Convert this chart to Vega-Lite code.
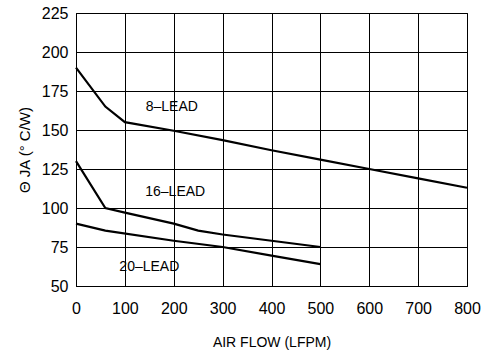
{
  "$schema": "https://vega.github.io/schema/vega-lite/v6.json",
  "width": 391,
  "height": 273,
  "autosize": "none",
  "padding": {"left": 76, "top": 13, "right": 15, "bottom": 68},
  "background": "white",
  "config": {
    "view": {"stroke": "black", "strokeWidth": 1},
    "font": "Liberation Sans"
  },
  "datasets": {
    "curves": [
      {"series": "8-LEAD", "flow": 0, "theta": 190},
      {"series": "8-LEAD", "flow": 60, "theta": 165},
      {"series": "8-LEAD", "flow": 100, "theta": 155},
      {"series": "8-LEAD", "flow": 200, "theta": 149.5},
      {"series": "8-LEAD", "flow": 300, "theta": 143.5},
      {"series": "8-LEAD", "flow": 400, "theta": 137},
      {"series": "8-LEAD", "flow": 500, "theta": 131},
      {"series": "8-LEAD", "flow": 600, "theta": 125},
      {"series": "8-LEAD", "flow": 700, "theta": 119},
      {"series": "8-LEAD", "flow": 800, "theta": 113},
      {"series": "16-LEAD", "flow": 0, "theta": 130},
      {"series": "16-LEAD", "flow": 60, "theta": 100},
      {"series": "16-LEAD", "flow": 100, "theta": 97},
      {"series": "16-LEAD", "flow": 200, "theta": 90},
      {"series": "16-LEAD", "flow": 250, "theta": 85.5},
      {"series": "16-LEAD", "flow": 300, "theta": 83},
      {"series": "16-LEAD", "flow": 400, "theta": 79},
      {"series": "16-LEAD", "flow": 500, "theta": 75},
      {"series": "20-LEAD", "flow": 0, "theta": 90},
      {"series": "20-LEAD", "flow": 60, "theta": 85.5},
      {"series": "20-LEAD", "flow": 200, "theta": 79},
      {"series": "20-LEAD", "flow": 300, "theta": 75},
      {"series": "20-LEAD", "flow": 400, "theta": 69.5},
      {"series": "20-LEAD", "flow": 500, "theta": 64}
    ],
    "labels": [
      {"label": "8–LEAD", "flow": 196, "theta": 165},
      {"label": "16–LEAD", "flow": 203, "theta": 110},
      {"label": "20–LEAD", "flow": 150, "theta": 62.5}
    ]
  },
  "encoding": {
    "x": {
      "field": "flow", "type": "quantitative",
      "scale": {"domain": [0, 800], "nice": false},
      "axis": {
        "values": [0, 100, 200, 300, 400, 500, 600, 700, 800],
        "title": "AIR FLOW (LFPM)",
        "titleFont": "Liberation Sans", "titleFontSize": 14, "titleFontWeight": "normal",
        "titleColor": "black", "titlePadding": 19,
        "labelFont": "Liberation Sans", "labelFontSize": 16, "labelColor": "black",
        "labelPadding": 14, "ticks": false, "labelOverlap": false,
        "domainColor": "black", "gridColor": "black", "gridOpacity": 1, "gridWidth": 1,
        "labelFlush": false
      }
    },
    "y": {
      "field": "theta", "type": "quantitative",
      "scale": {"domain": [50, 225], "nice": false, "zero": false},
      "axis": {
        "values": [50, 75, 100, 125, 150, 175, 200, 225],
        "title": "Θ JA (° C/W)",
        "titleFont": "Liberation Sans", "titleFontSize": 15, "titleFontWeight": "normal",
        "titleColor": "black", "titlePadding": 9,
        "labelFont": "Liberation Sans", "labelFontSize": 16, "labelColor": "black",
        "labelPadding": 8, "ticks": false, "labelOverlap": false,
        "domainColor": "black", "gridColor": "black", "gridOpacity": 1, "gridWidth": 1,
        "labelFlush": false
      }
    }
  },
  "layer": [
    {
      "data": {"name": "curves"},
      "mark": {"type": "line", "color": "black", "strokeWidth": 2.2},
      "encoding": {
        "detail": {"field": "series"}
      }
    },
    {
      "data": {"name": "labels"},
      "mark": {"type": "text", "font": "Liberation Sans", "fontSize": 14, "color": "black", "align": "center", "baseline": "middle"},
      "encoding": {
        "text": {"field": "label"}
      }
    }
  ]
}
